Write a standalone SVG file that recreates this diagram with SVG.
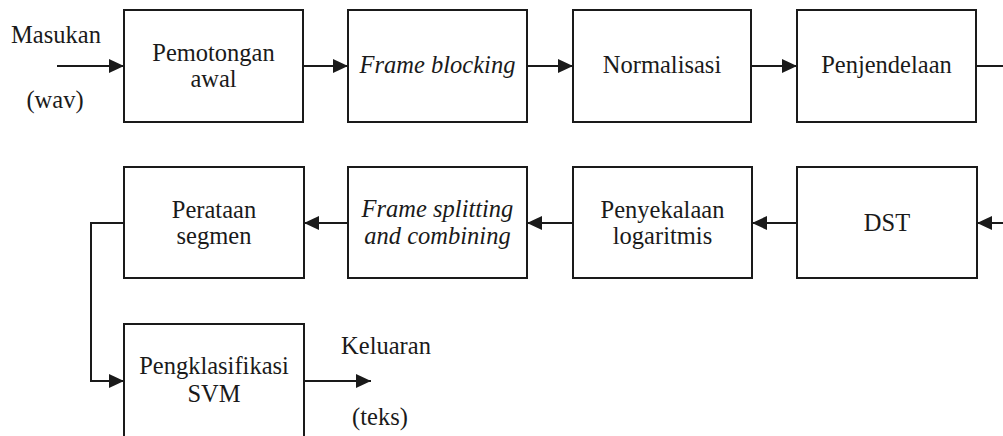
<svg xmlns="http://www.w3.org/2000/svg" width="1003" height="436" viewBox="0 0 1003 436">
<style>
.box{fill:#fff;stroke:#1a1a1a;stroke-width:2}
.ln{fill:none;stroke:#1a1a1a;stroke-width:2}
.t{font-family:'Liberation Serif','Times New Roman',serif;font-size:24.5px;fill:#1a1a1a;text-anchor:middle}
.i{font-style:italic}
</style>
<defs>
<marker id="ah" viewBox="0 0 15 14" refX="15" refY="7" markerWidth="15" markerHeight="14" markerUnits="userSpaceOnUse" orient="auto">
<path d="M0,0 L15,7 L0,14 Z" fill="#1a1a1a"/>
</marker>
</defs>
<g id="connectors">
<path class="ln" d="M57,66 H124" marker-end="url(#ah)"/>
<path class="ln" d="M303,66 H348" marker-end="url(#ah)"/>
<path class="ln" d="M527,66 H573" marker-end="url(#ah)"/>
<path class="ln" d="M751,66 H797" marker-end="url(#ah)"/>
<path class="ln" d="M976,66 H1005"/>
<path class="ln" d="M1005,223 H977" marker-end="url(#ah)"/>
<path class="ln" d="M797,223 H752" marker-end="url(#ah)"/>
<path class="ln" d="M573,223 H527" marker-end="url(#ah)"/>
<path class="ln" d="M348,223 H304" marker-end="url(#ah)"/>
<path class="ln" d="M124,223 H91 V381 H124" marker-end="url(#ah)"/>
<path class="ln" d="M304,381 H371" marker-end="url(#ah)"/>
</g>
<g id="input-label">
<text x="56" y="43" class="t">Masukan</text>
<text x="55" y="108" class="t">(wav)</text>
</g>
<g id="n1">
<rect class="box" x="124" y="10" width="179" height="112"/>
<text x="213.5" y="61" class="t">Pemotongan</text>
<text x="213.5" y="87" class="t">awal</text>
</g>
<g id="n2">
<rect class="box" x="348" y="10" width="179" height="112"/>
<text x="437.5" y="73" class="t i">Frame blocking</text>
</g>
<g id="n3">
<rect class="box" x="573" y="10" width="178" height="112"/>
<text x="662" y="73" class="t">Normalisasi</text>
</g>
<g id="n4">
<rect class="box" x="797" y="10" width="179" height="112"/>
<text x="886.5" y="73" class="t">Penjendelaan</text>
</g>
<g id="n5">
<rect class="box" x="797" y="167" width="180" height="111"/>
<text x="887" y="231" class="t">DST</text>
</g>
<g id="n6">
<rect class="box" x="573" y="167" width="179" height="111"/>
<text x="662.5" y="218" class="t">Penyekalaan</text>
<text x="662.5" y="244" class="t">logaritmis</text>
</g>
<g id="n7">
<rect class="box" x="348" y="167" width="179" height="111"/>
<text x="437.5" y="217" class="t i">Frame splitting</text>
<text x="437.5" y="244" class="t i">and combining</text>
</g>
<g id="n8">
<rect class="box" x="124" y="167" width="180" height="111"/>
<text x="214" y="218" class="t">Perataan</text>
<text x="214" y="244" class="t">segmen</text>
</g>
<g id="n9">
<rect class="box" x="124" y="324" width="180" height="140"/>
<text x="214" y="374" class="t">Pengklasifikasi</text>
<text x="214" y="402" class="t">SVM</text>
</g>
<g id="output-label">
<text x="386" y="354" class="t">Keluaran</text>
<text x="380" y="425" class="t">(teks)</text>
</g>
</svg>
